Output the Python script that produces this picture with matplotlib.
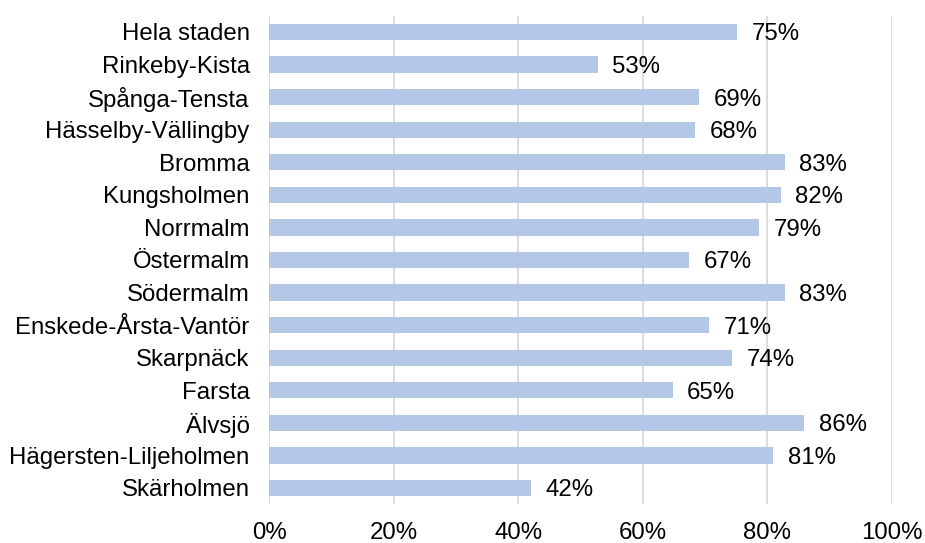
import matplotlib.pyplot as plt
from matplotlib.ticker import PercentFormatter

# Andel per stadsdel (etiketter visas avrundade)
stadsdelar = ['Hela staden', 'Rinkeby-Kista', 'Spånga-Tensta', 'Hässelby-Vällingby',
              'Bromma', 'Kungsholmen', 'Norrmalm', 'Östermalm', 'Södermalm',
              'Enskede-Årsta-Vantör', 'Skarpnäck', 'Farsta', 'Älvsjö',
              'Hägersten-Liljeholmen', 'Skärholmen']
andel = [75.1, 52.8, 69.1, 68.4, 82.8, 82.2, 78.7, 67.4, 82.8, 70.7, 74.4, 64.8, 85.9, 81.0, 42.0]
xticks = [0, 20, 40, 60, 80, 100]

plt.rcParams['font.family'] = ['Liberation Sans', 'DejaVu Sans']
fs = 17.3

fig = plt.figure(figsize=(9.25, 5.43), dpi=100)
ax = fig.add_axes([0.291, 0.0713, 0.673, 0.8998])

y = list(range(len(stadsdelar)))
ax.barh(y, andel, height=0.5, color='#B4C7E7', zorder=2)

for yi, v in zip(y, andel):
    ax.annotate(f'{round(v)}%', (v, yi), xytext=(10.5, 0), textcoords='offset points',
                va='center_baseline', ha='left', fontsize=fs, color='#000000')

ax.set_yticks(y)
ax.set_yticklabels(stadsdelar, fontsize=fs)
ax.set_ylim(len(stadsdelar) - 0.5, -0.5)
ax.set_xlim(0, 100)
ax.set_xticks(xticks)
ax.xaxis.set_major_formatter(PercentFormatter(decimals=0))
ax.tick_params(axis='x', labelsize=fs, length=0, pad=13)
ax.tick_params(axis='y', length=0, pad=14)
ax.grid(axis='x', color='#D9D9D9', linewidth=1.3, zorder=0)
for s in ax.spines.values():
    s.set_visible(False)

plt.savefig('out.png', dpi=100)
plt.close()
